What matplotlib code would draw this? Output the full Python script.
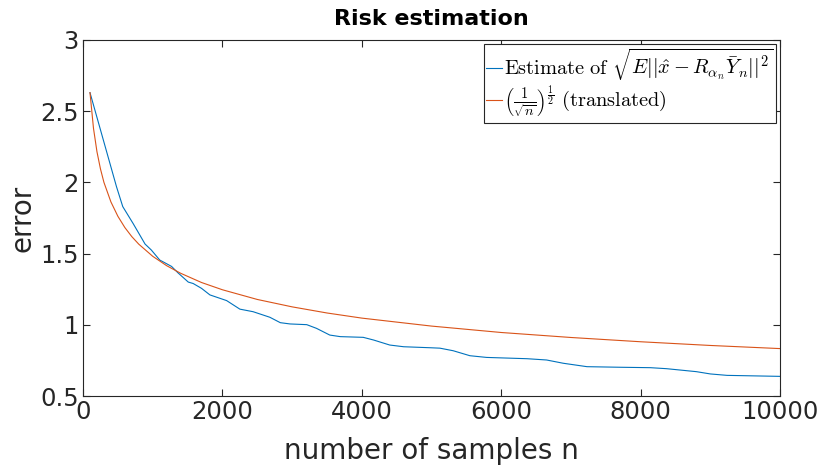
import matplotlib
matplotlib.use('Agg')

import matplotlib.pyplot as plt

plt.rcParams['font.family'] = 'DejaVu Sans'
plt.rcParams['mathtext.fontset'] = 'cm'

# 蓝线: 估计的风险
n_est = [100, 290, 480, 570, 720, 890, 980, 1100, 1270, 1360, 1510, 1580,
         1700, 1820, 2060, 2250, 2440, 2680, 2830, 2970, 3210, 3350, 3540,
         3690, 4020, 4170, 4400, 4600, 4980, 5120, 5310, 5550, 5790, 6370,
         6650, 6890, 7230, 7700, 8140, 8370, 8800, 9000, 9240, 10000]
err_est = [2.63, 2.30, 1.97, 1.83, 1.71, 1.567, 1.525, 1.455, 1.41, 1.366,
           1.30, 1.29, 1.256, 1.21, 1.17, 1.11, 1.092, 1.053, 1.015, 1.006,
           1.001, 0.975, 0.928, 0.917, 0.912, 0.893, 0.858, 0.846, 0.839,
           0.836, 0.818, 0.783, 0.771, 0.762, 0.753, 0.730, 0.706, 0.702,
           0.699, 0.692, 0.671, 0.655, 0.645, 0.638]

# 橙线: 理论速率 (平移后)
n_ref = [100, 150, 200, 250, 300, 400, 500, 600, 700, 800, 1000, 1200, 1400,
         1700, 2000, 2500, 3000, 3500, 4000, 5000, 6000, 7000, 8000, 9000,
         10000]
err_ref = [2.63, 2.38, 2.215, 2.095, 2.00, 1.863, 1.762, 1.683, 1.619, 1.566,
           1.481, 1.415, 1.362, 1.297, 1.246, 1.178, 1.126, 1.083, 1.047,
           0.991, 0.946, 0.911, 0.881, 0.855, 0.833]

fig = plt.figure(figsize=(8.22, 4.70), dpi=100)
ax = fig.add_axes([0.101, 0.1574, 0.848, 0.7576])

ax.plot(n_est, err_est, color='#0072BD', linewidth=0.8,
        label=r'$\mathrm{Estimate\ of}\ \sqrt{E||\hat{x}-R_{\alpha_n}\bar{Y}_n||^2}$')
ax.plot(n_ref, err_ref, color='#D95319', linewidth=0.8,
        label=r'$\left(\frac{1}{\sqrt{n}}\right)^{\frac{1}{2}}\ \mathrm{(translated)}$')

ax.set_xlim(0, 10000)
ax.set_ylim(0.5, 3)
ax.set_xticks([0, 2000, 4000, 6000, 8000, 10000])
ax.set_yticks([0.5, 1, 1.5, 2, 2.5, 3])
ax.set_yticklabels(['0.5', '1', '1.5', '2', '2.5', '3'])

ax.tick_params(direction='in', length=5, width=0.8, top=True, right=True,
               labelsize=17.5, colors='#262626', pad=3)
for s in ax.spines.values():
    s.set_color('#262626')
    s.set_linewidth(0.8)

ax.set_xlabel('number of samples n', fontsize=20, color='#262626', labelpad=9)
ax.set_ylabel('error', fontsize=20, color='#262626', labelpad=3)
ax.set_title('Risk estimation', fontsize=16, fontweight='bold', pad=11)

leg = ax.legend(loc='upper right', fontsize=14.7, handlelength=0.8,
                handletextpad=0.1, borderpad=0.12, labelspacing=0.05,
                fancybox=False, framealpha=1, borderaxespad=0.2)
leg.get_frame().set_edgecolor('#262626')
leg.get_frame().set_linewidth(0.8)

plt.savefig('out.png', dpi=100)
